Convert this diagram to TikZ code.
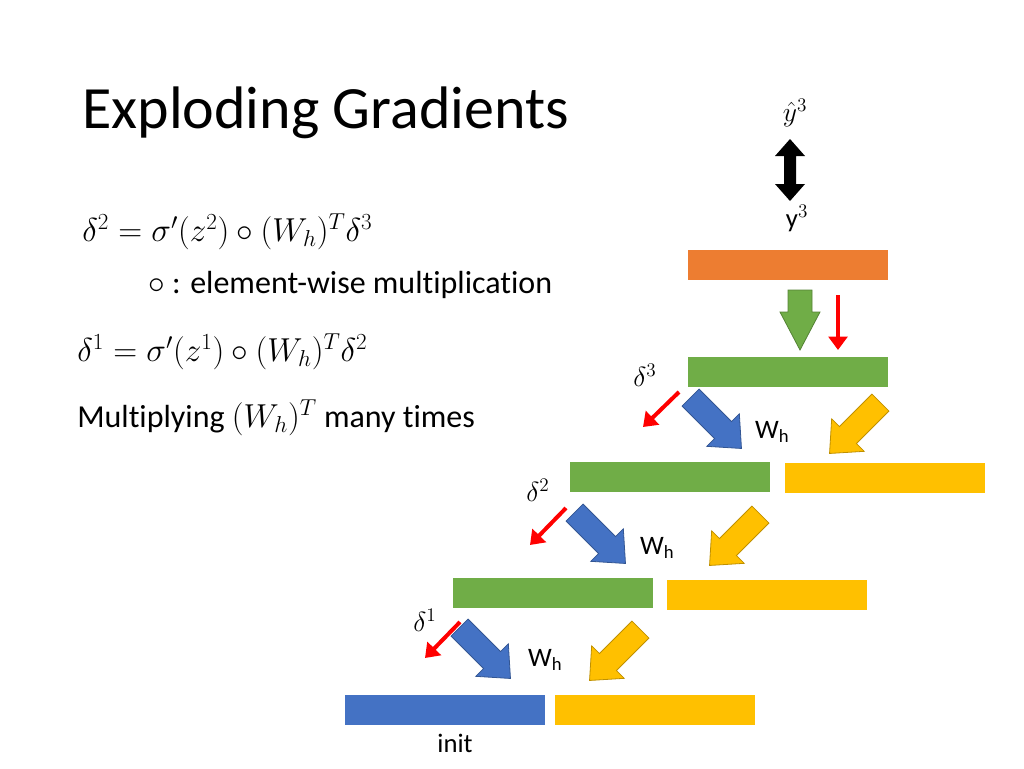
\documentclass[tikz,border=0pt]{standalone}
\usepackage{fontspec}
\setmainfont{Carlito}[Ligatures=CommonOff]
\usetikzlibrary{arrows.meta}
\definecolor{cblue}{HTML}{4472C4}
\definecolor{cgreen}{HTML}{70AD47}
\definecolor{corange}{HTML}{ED7D31}
\definecolor{cyellow}{HTML}{FFC000}
\tikzset{
 bar/.style={draw=none,minimum width=150pt,minimum height=22pt,inner sep=0,anchor=north west},
 blkarrow/.pic={\draw[draw=#1!75!black,fill=#1,line width=0.6pt]
   (-36,-12) -- (10,-12) -- (10,-23) -- (36,0) -- (10,23) -- (10,12) -- (-36,12) -- cycle;},
 uparrow/.pic={\draw[draw=#1!75!black,fill=#1,line width=0.6pt]
   (-30,-12) -- (-8,-12) -- (-8,-20) -- (30,0) -- (-8,20) -- (-8,12) -- (-30,12) -- cycle;},
 dblarrow/.pic={\fill[black]
   (-31,0) -- (-14,-15) -- (-14,-6) -- (14,-6) -- (14,-15) -- (31,0) -- (14,15) -- (14,6) -- (-14,6) -- (-14,15) -- cycle;},
 red/.style={draw=red,line width=3pt,-{Triangle[length=10pt,width=14pt]}},
 lbl/.style={font=\fontsize{24}{28}\selectfont,inner sep=0,anchor=west},
 sm/.style={inner sep=0,font=\fontsize{20}{24}\selectfont}
}
\newcommand{\Wh}{W\raisebox{-0.35ex}{\fontsize{14}{16}\selectfont h}}
\begin{document}
\begin{tikzpicture}[x=0.75pt,y=-0.75pt]
\useasboundingbox (0,0) rectangle (1024,768);
\node[anchor=west,inner sep=0,font=\fontsize{45}{52}\selectfont] (title) at (82,113) {Exploding Gradients};
\node[sm] (yhat) at (795,113) {$\hat{y}^3$};
\pic[rotate=90] (dbl) at (790,170) {dblarrow};
\node[sm] (y3) at (797,218) {y$^3$};
\node[bar,fill=corange] (ob) at (688,250) {};
\pic[rotate=-90] (ga) at (800,320) {uparrow=cgreen};
\coordinate (r0s) at (838,295); \coordinate (r0e) at (838,350);
\draw[red] (r0s) -- (r0e);
\node[bar,fill=cgreen] (g3) at (688,357) {};
\node[sm] (d3) at (645,375) {$\delta^3$};
\node[bar,fill=cgreen] (g2) at (570,462) {};
\node[bar,fill=cyellow] (y2) at (785,463) {};
\node[sm] (d2) at (538,490) {$\delta^2$};
\node[bar,fill=cgreen] (g1) at (453,578) {};
\node[bar,fill=cyellow] (y1) at (667,580) {};
\node[sm] (d1) at (425,620) {$\delta^1$};
\node[bar,fill=cblue] (b0) at (345,695) {};
\node[bar,fill=cyellow] (y0) at (555,695) {};
\node[sm] (init) at (455,743) {init};
\coordinate (r3s) at (679,392); \coordinate (r3e) at (643,427);
\draw[red] (r3s) -- (r3e);
\coordinate (r2s) at (566,508); \coordinate (r2e) at (530,545);
\draw[red] (r2s) -- (r2e);
\coordinate (r1s) at (460,622); \coordinate (r1e) at (425,658);
\draw[red] (r1s) -- (r1e);
\pic[rotate=-45] (ba3) at (716,423) {blkarrow=cblue};
\pic[rotate=-45] (ba2) at (600,538) {blkarrow=cblue};
\pic[rotate=-45] (ba1) at (485,653) {blkarrow=cblue};
\pic[rotate=-135] (ya3) at (855,428) {blkarrow=cyellow};
\pic[rotate=-135] (ya2) at (735,540) {blkarrow=cyellow};
\pic[rotate=-135] (ya1) at (615,655) {blkarrow=cyellow};
\node[sm] (w3) at (772,432) {\Wh};
\node[sm] (w2) at (657,548) {\Wh};
\node[sm] (w1) at (545,660) {\Wh};
\node[lbl] (e2) at (82,232) {$\delta^2=\sigma'(z^2)\circ(W_h)^T\delta^3$};
\node[lbl] (e0) at (148,285) {$\circ$ : element-wise multiplication};
\node[lbl] (e1) at (77,352) {$\delta^1=\sigma'(z^1)\circ(W_h)^T\delta^2$};
\node[lbl] (e3) at (77,418) {Multiplying $(W_h)^T$ many times};
\end{tikzpicture}
\end{document}
